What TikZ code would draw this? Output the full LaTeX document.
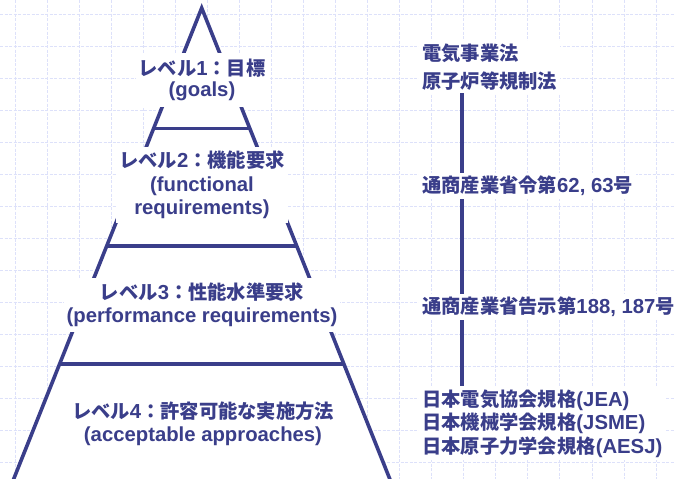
\documentclass[tikz,border=0pt]{standalone}
\usepackage{fontspec}
\setmainfont{Liberation Sans}
\newfontfamily\jp{Noto Sans CJK JP}[Scale=0.95]
\definecolor{navy}{RGB}{58,62,138}
\definecolor{gridc}{RGB}{221,225,250}
\tikzset{
  gridline/.style={gridc, line width=0.8pt, dash pattern=on 3pt off 1.5pt},
  tier/.style={navy, line width=3.6pt},
  lab/.style={text=navy, fill=white, align=center, inner xsep=3pt,
    font=\fontsize{20.3}{23.5}\selectfont\bfseries},
  src/.style={text=navy, fill=white, align=left, anchor=west, inner xsep=3pt, inner ysep=3pt,
    font=\fontsize{20.3}{23.5}\selectfont\bfseries},
  conn/.style={navy, line width=3.3pt}
}
\begin{document}
\begin{tikzpicture}[x=1pt,y=-1pt]
\useasboundingbox (0,0) rectangle (675,479);
\fill[white] (0,0) rectangle (675,479);
% background grid
\foreach \i in {0,...,20} \draw[gridline] ({15+32.05*\i},0) -- ({15+32.05*\i},479);
\foreach \j in {0,...,14} \draw[gridline] (0,{14+32.05*\j}) -- (675,{14+32.05*\j});
% pyramid
\filldraw[fill=white, draw=navy, line width=3.6pt, line join=miter] (12.5,482) -- (201.7,8) -- (391,482);
\draw[tier] (153.5,128.3) -- (249.8,128.3);
\draw[tier] (106.4,246) -- (296.8,246);
\draw[tier] (59.1,364) -- (344.0,364);
% level labels
\node[lab, inner ysep=6pt] (l1) at (202,80) {{\jp レベル}1{\jp ：目標}\\[-2pt](goals)};
\node[lab, inner ysep=4pt] (l2) at (202,185) {{\jp レベル}2{\jp ：機能要求}\\(functional\\requirements)};
\node[lab, inner ysep=5pt] (l3) at (202,305) {{\jp レベル}3{\jp ：性能水準要求}\\(performance requirements)};
\node[lab, fill=none] (l4) at (203,424) {{\jp レベル}4{\jp ：許容可能な実施方法}\\(acceptable approaches)};
% legal hierarchy
\coordinate (vx) at (462,0);
\node[src] (law) at (419,67) {{\jp 電気事業法}\\[4.5pt]{\jp 原子炉等規制法}};
\node[src] (ord) at (419,186) {{\jp 通商産業省令第}62, 63{\jp 号}};
\node[src] (ntc) at (419,307) {{\jp 通商産業省告示第}188, 187{\jp 号}};
\node[src] (std) at (419,423.5) {{\jp 日本電気協会規格}(JEA)\\{\jp 日本機械学会規格}(JSME)\\{\jp 日本原子力学会規格}(AESJ)};
\draw[conn] (law.south -| vx) -- (ord.north -| vx);
\draw[conn] (ord.south -| vx) -- (ntc.north -| vx);
\draw[conn] (ntc.south -| vx) -- (std.north -| vx);
\end{tikzpicture}
\end{document}
